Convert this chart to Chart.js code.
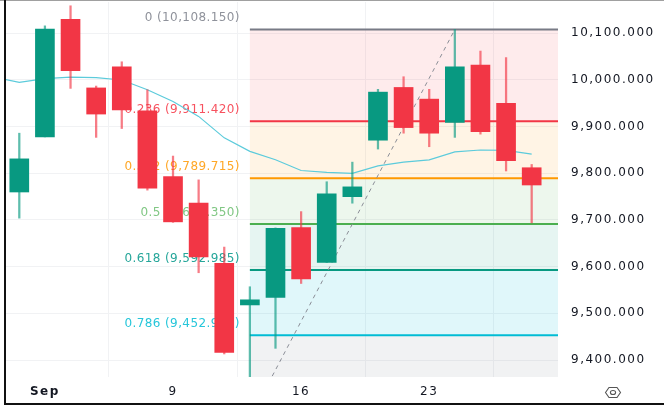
<!DOCTYPE html>
<html><head><meta charset="utf-8">
<script src="https://cdn.jsdelivr.net/npm/chart.js@4/dist/chart.umd.min.js"></script>
<style>html,body{margin:0;padding:0;background:#fff;overflow:hidden}canvas{display:block}</style>
</head><body>
<canvas id="c" width="664" height="412"></canvas>
<script>
// ---- data ----
const dates = ['Aug 30','Sep 2','Sep 3','Sep 4','Sep 5','Sep 6','Sep 9','Sep 10','Sep 11','Sep 12','Sep 13',
  'Sep 16','Sep 17','Sep 18','Sep 19','Sep 20','Sep 23','Sep 24','Sep 25','Sep 26','Sep 27'];
const opens  = [9760, 9878, 10130, 9983, 10028, 9934, 9793, 9736, 9607, 9518, 9534, 9684, 9609, 9750, 9871, 9984, 9959, 9909, 10032, 9950, 9812];
const highs  = [9886, 10116, 10159, 9987, 10039, 9979, 9837, 9786, 9642, 9557, 9683, 9718, 9782, 9824, 9980, 10007, 9980, 10108.15, 10062, 10048, 9819];
const lows   = [9704, 9878, 9982, 9877, 9896, 9764, 9695, 9587, 9413, 9274.55, 9425, 9564, 9609, 9736, 9852, 9886, 9857, 9877, 9884, 9805, 9694];
const closes = [9831, 10109, 10020, 9927, 9936, 9768, 9696, 9621, 9416, 9529, 9682, 9574, 9756, 9771, 9974, 9898, 9886, 10028, 9889, 9827, 9775];
const maIndex  = [-1, 0, 1, 2, 3, 4, 5, 6, 7, 8, 9, 10, 11, 12, 13, 14, 15, 16, 17, 18, 19, 20];
const maValues = [10006, 9995, 10003, 10006, 10005, 10000, 9979, 9954, 9922, 9876, 9847, 9829, 9806, 9802, 9800, 9816, 9824, 9829, 9846, 9850, 9849, 9841];
const yTicks = [9400, 9500, 9600, 9700, 9800, 9900, 10000, 10100];
const xTickIndex  = [1, 6, 11, 16];
const xTickLabels = ['Sep', '9', '16', '23'];
const fibRatios = [0, 0.236, 0.382, 0.5, 0.618, 0.786, 1];
const fibPrices = [10108.15, 9911.42, 9789.715, 9691.35, 9592.985, 9452.94, 9274.55];
const swingLowIndex = 9, swingHighIndex = 17;

// ---- styles ----
const UP = '#089981', DOWN = '#f23645';
const UP_WICK = 'rgba(8,153,129,0.65)', DOWN_WICK = 'rgba(242,54,69,0.65)';
const fibLineColors = ['#787b86', '#f23645', '#ff9800', '#4caf50', '#089981', '#00bcd4', '#787b86'];
const fibFillColors = ['rgba(242,54,69,0.1)', 'rgba(255,152,0,0.1)', 'rgba(76,175,80,0.1)', 'rgba(8,153,129,0.1)', 'rgba(0,188,212,0.12)', 'rgba(120,123,134,0.1)'];
const fibTextColors = ['#8f929b', '#f7525f', '#ffa726', '#81c784', '#26a69a', '#26c6da', '#8f929b'];
const FONT = '"DejaVu Sans", sans-serif';

const fmt = v => v.toLocaleString('en-US', {minimumFractionDigits: 3, maximumFractionDigits: 3});

const fibPlugin = {
  id: 'fib',
  beforeDraw(chart) { chart.ctx.letterSpacing = '1.5px'; },
  beforeDatasetsDraw(chart) {
    const ctx = chart.ctx, xs = chart.scales.x, ys = chart.scales.y, a = chart.chartArea;
    const x0 = xs.getPixelForValue(swingLowIndex), x1 = a.right;
    ctx.save();
    ctx.beginPath(); ctx.rect(a.left, a.top, a.right - a.left, a.bottom - a.top); ctx.clip();
    for (let i = 0; i < fibPrices.length - 1; i++) {
      const yt = ys.getPixelForValue(fibPrices[i]), yb = ys.getPixelForValue(fibPrices[i + 1]);
      ctx.fillStyle = fibFillColors[i];
      ctx.fillRect(x0, yt, x1 - x0, yb - yt);
    }
    for (let i = 0; i < fibPrices.length; i++) {
      const y = ys.getPixelForValue(fibPrices[i]);
      ctx.strokeStyle = fibLineColors[i]; ctx.lineWidth = 2;
      ctx.beginPath(); ctx.moveTo(x0, y); ctx.lineTo(x1, y); ctx.stroke();
    }
    ctx.strokeStyle = '#8a8d96'; ctx.lineWidth = 1; ctx.setLineDash([4, 4]);
    ctx.beginPath();
    ctx.moveTo(xs.getPixelForValue(swingLowIndex), ys.getPixelForValue(lows[swingLowIndex]));
    ctx.lineTo(xs.getPixelForValue(swingHighIndex), ys.getPixelForValue(highs[swingHighIndex]));
    ctx.stroke(); ctx.setLineDash([]);
    ctx.font = '12px ' + FONT; ctx.letterSpacing = '0.4px';
    ctx.textAlign = 'right'; ctx.textBaseline = 'middle';
    for (let i = 0; i < fibPrices.length; i++) {
      const y = ys.getPixelForValue(fibPrices[i]);
      ctx.fillStyle = fibTextColors[i];
      ctx.fillText(fibRatios[i] + ' (' + fmt(fibPrices[i]) + ')', x0 - 10, y - 11.5);
    }
    ctx.restore();
  },
  afterDraw(chart) {
    const ctx = chart.ctx;
    ctx.save();
    ctx.fillStyle = '#a0a0a0'; ctx.fillRect(0, 0, 664, 1);
    ctx.fillStyle = '#111'; ctx.fillRect(4, 0, 2, 405); ctx.fillRect(4, 403, 660, 2);
    // settings icon
    const cx = 613, cy = 392.5;
    ctx.strokeStyle = '#555'; ctx.lineWidth = 1.1;
    ctx.beginPath();
    ctx.moveTo(cx - 7.5, cy); ctx.lineTo(cx - 4, cy - 5); ctx.lineTo(cx + 4, cy - 5);
    ctx.lineTo(cx + 7.5, cy); ctx.lineTo(cx + 4, cy + 5); ctx.lineTo(cx - 4, cy + 5); ctx.closePath();
    ctx.stroke();
    ctx.beginPath(); ctx.ellipse(cx, cy, 2.6, 2, 0, 0, Math.PI * 2); ctx.stroke();
    ctx.restore();
  }
};

new Chart(document.getElementById('c'), {
  type: 'bar',
  data: {
    datasets: [
      { label: 'Body', order: 0, grouped: false, barThickness: 19, borderWidth: 0, borderSkipped: false,
        data: dates.map((d, i) => ({x: i, y: [opens[i], closes[i]]})),
        backgroundColor: c => closes[c.dataIndex] >= opens[c.dataIndex] ? UP : DOWN },
      { label: 'Wick', order: 1, grouped: false, barThickness: 1.6, borderWidth: 0, borderSkipped: false,
        data: dates.map((d, i) => ({x: i, y: [lows[i], highs[i]]})),
        backgroundColor: c => closes[c.dataIndex] >= opens[c.dataIndex] ? UP_WICK : DOWN_WICK },
      { label: 'MA', type: 'line', order: 2, borderColor: '#5ccbdb', borderWidth: 1.2, pointRadius: 0,
        tension: 0, data: maIndex.map((x, i) => ({x: x, y: maValues[i]})) }
    ]
  },
  options: {
    responsive: false, animation: false, devicePixelRatio: 1,
    layout: {padding: {left: 6, top: 2, right: 0, bottom: 0}},
    plugins: {legend: {display: false}, tooltip: {enabled: false}},
    scales: {
      x: {
        type: 'linear', offset: false, min: -0.519, max: 21.027,
        afterBuildTicks: s => { s.ticks = xTickIndex.map(v => ({value: v})); },
        afterFit: s => { s.height = 35; s.paddingLeft = 0; s.paddingRight = 0; },
        border: {display: false},
        grid: {color: '#f1f2f4', drawTicks: false},
        ticks: {
          padding: 8, color: '#131722', maxRotation: 0, autoSkip: false,
          font: c => ({family: FONT, size: 12, weight: c.index === 0 ? 'bold' : 'normal'}),
          callback: (v, i) => xTickLabels[i]
        }
      },
      y: {
        position: 'right', min: 9363.6, max: 10167.1,
        afterBuildTicks: s => { s.ticks = yTicks.map(v => ({value: v})); },
        afterFit: s => { s.width = 106; s.paddingTop = 0; s.paddingBottom = 0; },
        border: {display: false},
        grid: {color: '#f1f2f4', drawTicks: false},
        ticks: {padding: 13, color: '#131722', font: {family: FONT, size: 12}, callback: v => fmt(v)}
      }
    }
  },
  plugins: [fibPlugin]
});
</script>
</body></html>
